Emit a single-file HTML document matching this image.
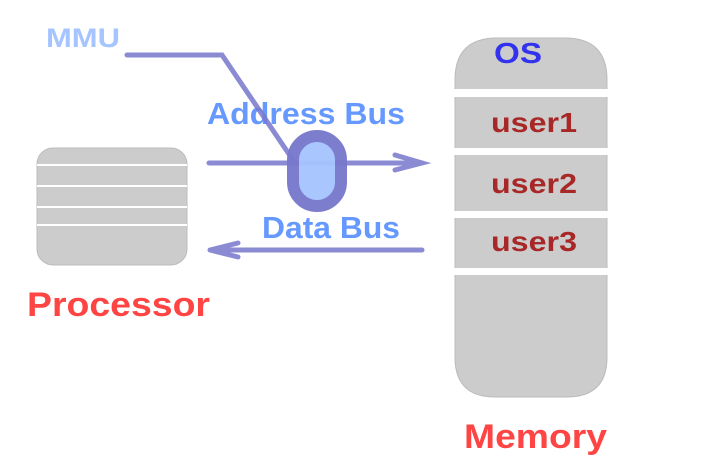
<!DOCTYPE html>
<html><head><style>
body{margin:0;background:#fff;width:709px;height:474px;overflow:hidden}
svg{display:block}
text{font-family:"Liberation Sans",Arial,sans-serif;font-weight:bold}
</style></head><body>
<svg width="709" height="474" viewBox="0 0 709 474">
<path d="M455,80 Q455,38 497,38 L565,38 Q607,38 607,80 L607,357 Q607,397 567,397 L495,397 Q455,397 455,357 Z" fill="#cccccc" stroke="#bbbbbb" stroke-width="1"/>
<rect x="450" y="89" width="162" height="8" fill="#fff"/>
<rect x="450" y="148" width="162" height="7" fill="#fff"/>
<rect x="450" y="211" width="162" height="7" fill="#fff"/>
<rect x="450" y="268" width="162" height="7" fill="#fff"/>
<text x="494" y="63" font-size="29" fill="#3333ee" textLength="48" lengthAdjust="spacingAndGlyphs">OS</text>
<text x="491" y="132" font-size="28" fill="#a82828" textLength="86" lengthAdjust="spacingAndGlyphs">user1</text>
<text x="491" y="193" font-size="28" fill="#a82828" textLength="86" lengthAdjust="spacingAndGlyphs">user2</text>
<text x="491" y="251" font-size="28" fill="#a82828" textLength="86" lengthAdjust="spacingAndGlyphs">user3</text>
<rect x="37" y="148" width="150" height="117" rx="16" fill="#cccccc" stroke="#bbbbbb"/>
<g stroke="#fff" stroke-width="2"><line x1="37" y1="165" x2="187" y2="165"/><line x1="37" y1="186" x2="187" y2="186"/><line x1="37" y1="207" x2="187" y2="207"/><line x1="37" y1="225" x2="187" y2="225"/></g>
<text x="46" y="47" font-size="27" fill="#a6c4ff" textLength="74" lengthAdjust="spacingAndGlyphs">MMU</text>
<text x="207" y="124" font-size="31" fill="#6699ff" textLength="198" lengthAdjust="spacingAndGlyphs">Address Bus</text>
<text x="262" y="238" font-size="31" fill="#6699ff" textLength="138" lengthAdjust="spacingAndGlyphs">Data Bus</text>
<text x="27" y="316" font-size="34" fill="#ff4444" textLength="183" lengthAdjust="spacingAndGlyphs">Processor</text>
<text x="464" y="448" font-size="34" fill="#ff4444" textLength="143" lengthAdjust="spacingAndGlyphs">Memory</text>
<g stroke="#7777cc" stroke-width="5" fill="none" stroke-linecap="round" opacity="0.85">
<polyline points="127,55 222,55 295,163"/>
<line x1="209" y1="163" x2="422" y2="163"/>
<polyline points="395,155 422,163 395,170"/>
<line x1="422" y1="250" x2="210" y2="250"/>
<polyline points="238,243 210,250 238,257"/>
</g>
<rect x="293" y="136" width="48" height="70" rx="24" fill="#a6c4ff" stroke="#7777cc" stroke-width="12" opacity="0.95"/>
</svg>
</body></html>
